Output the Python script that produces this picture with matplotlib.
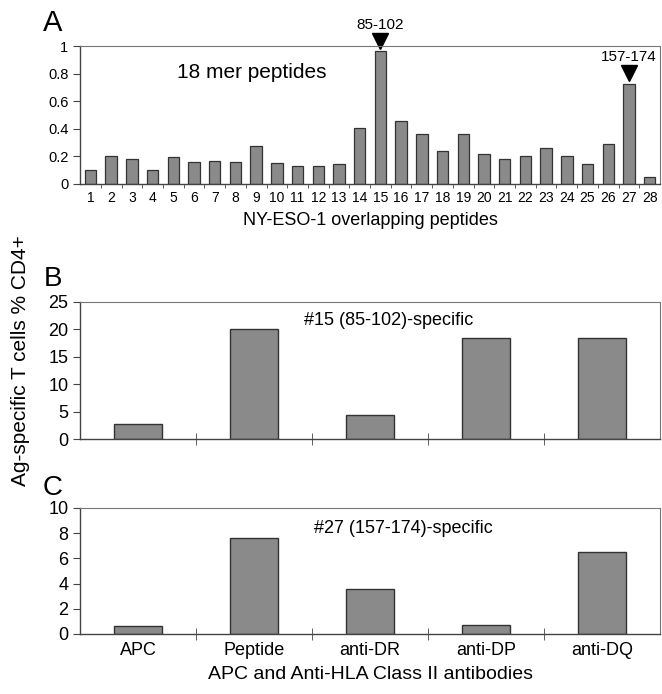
import numpy as np
import matplotlib
matplotlib.use("Agg")
from matplotlib import pyplot as plt

plt.rcParams['font.family'] = ['Liberation Sans', 'DejaVu Sans']

# panel A: NY-ESO-1 overlapping 18-mer peptides
peptides = list(range(1, 29))
peptide_resp = [0.10, 0.20, 0.18, 0.10, 0.195, 0.16, 0.168, 0.16, 0.279, 0.15,
                0.132, 0.132, 0.142, 0.409, 0.964, 0.457, 0.363, 0.243, 0.363, 0.216,
                0.18, 0.204, 0.262, 0.204, 0.142, 0.288, 0.724, 0.05]
marked = [15, 27]
marked_labels = ['85-102', '157-174']

# panels B and C: blocking with anti-HLA class II antibodies
conditions = ['APC', 'Peptide', 'anti-DR', 'anti-DP', 'anti-DQ']
resp_15 = [2.7, 20.1, 4.45, 18.5, 18.5]
resp_27 = [0.6, 7.58, 3.6, 0.74, 6.47]

bar_color = '#8a8a8a'
edge_color = '#333333'

fig = plt.figure(figsize=(6.62, 6.94), dpi=100)
axA = fig.add_axes([0.121, 0.735, 0.876, 0.198])
axB = fig.add_axes([0.121, 0.367, 0.876, 0.198])
axC = fig.add_axes([0.121, 0.0865, 0.876, 0.1816])


def style(ax):
    for s in ['top', 'right']:
        ax.spines[s].set_color('#777777')
        ax.spines[s].set_linewidth(0.8)
    for s in ['left', 'bottom']:
        ax.spines[s].set_color('#444444')
        ax.spines[s].set_linewidth(1.0)
    ax.tick_params(axis='y', direction='out', length=5, color='#444444')


# ---- A
axA.bar(peptides, peptide_resp, width=0.55, color=bar_color, edgecolor=edge_color, linewidth=0.9)
axA.set_xlim(0.5, 28.5)
axA.set_ylim(0, 1)
axA.set_yticks([0, 0.2, 0.4, 0.6, 0.8, 1])
axA.set_yticklabels(['0', '0.2', '0.4', '0.6', '0.8', '1'], fontsize=10.5)
axA.set_xticks(peptides)
axA.set_xticklabels([str(p) for p in peptides], fontsize=10)
axA.set_xticks(np.arange(1.5, 28.5, 1), minor=True)
axA.tick_params(axis='x', which='major', length=0, pad=5)
axA.tick_params(axis='x', which='minor', direction='out', length=3, color='#444444')
style(axA)
axA.set_xlabel('NY-ESO-1 overlapping peptides', fontsize=13, labelpad=5)
axA.text(8.8, 0.81, '18 mer peptides', fontsize=15, ha='center', va='center')
for p, lab in zip(marked, marked_labels):
    top = peptide_resp[p - 1]
    if top > 0.9:
        my, ty = 1.04, 1.158
    else:
        my, ty = 0.805, 0.925
    axA.plot([p], [my], marker='v', markersize=12, color='black', clip_on=False)
    axA.text(p, ty, lab, fontsize=11, ha='center', va='center', clip_on=False)

# ---- B and C
x = np.arange(len(conditions))
for ax, vals, ymax, step, note, nx, ny in [
        (axB, resp_15, 25, 5, '#15 (85-102)-specific', 2.16, 21.7),
        (axC, resp_27, 10, 2, '#27 (157-174)-specific', 2.29, 8.4)]:
    ax.bar(x, vals, width=0.41, color=bar_color, edgecolor=edge_color, linewidth=1.0)
    ax.set_xlim(-0.5, 4.5)
    ax.set_ylim(0, ymax)
    ax.set_yticks(np.arange(0, ymax + 1, step))
    ax.tick_params(axis='y', labelsize=13)
    ax.set_xticks(x)
    ax.set_xticks(np.arange(0.5, 4.5, 1), minor=True)
    ax.tick_params(axis='x', which='major', length=0, pad=6, labelsize=13)
    ax.tick_params(axis='x', which='minor', direction='inout', length=9, color='#444444')
    style(ax)
    ax.text(nx, ny, note, fontsize=13, ha='center', va='center')

axB.set_xticklabels([])
axC.set_xticklabels(conditions)
axC.set_xlabel('APC and Anti-HLA Class II antibodies', fontsize=14, labelpad=5)

fig.text(0.031, 0.481, 'Ag-specific T cells % CD4+', rotation=90, fontsize=15,
         ha='center', va='center')

# panel letters
fig.text(0.079, 0.967, 'A', fontsize=21, ha='center', va='center')
fig.text(0.08, 0.598, 'B', fontsize=20, ha='center', va='center')
fig.text(0.08, 0.297, 'C', fontsize=20, ha='center', va='center')

fig.savefig('out.png', dpi=100)
